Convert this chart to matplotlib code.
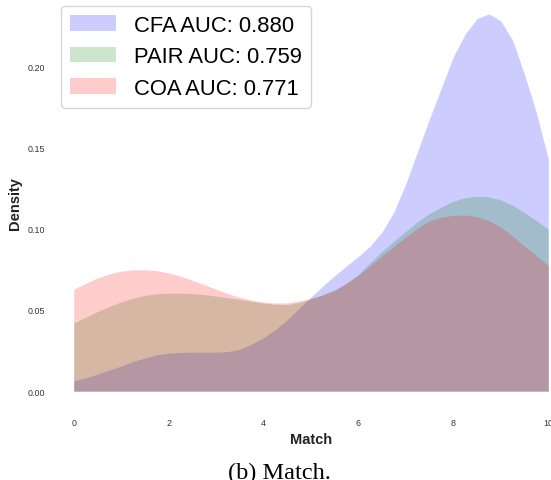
import numpy as np
import matplotlib
matplotlib.use("Agg")
import matplotlib.pyplot as plt

# density curves (Match score, 0..10)
match = np.arange(0, 10.01, 0.25)

cfa = [0.0064, 0.0082, 0.0105, 0.0130, 0.0155, 0.0182, 0.0205, 0.0224, 0.0234, 0.0239,
       0.0240, 0.0240, 0.0240, 0.0244, 0.0258, 0.0290, 0.0330, 0.0380, 0.0440, 0.0510,
       0.0580, 0.0648, 0.0712, 0.0772, 0.0830, 0.0895, 0.0982, 0.1105, 0.1280, 0.1480,
       0.1680, 0.1870, 0.2060, 0.2200, 0.2295, 0.2324, 0.2280, 0.2160, 0.1950, 0.1715,
       0.1430]
pair = [0.0420, 0.0455, 0.0490, 0.0522, 0.0550, 0.0572, 0.0590, 0.0600, 0.0604, 0.0604,
        0.0601, 0.0595, 0.0585, 0.0575, 0.0565, 0.0553, 0.0542, 0.0535, 0.0533, 0.0546,
        0.0568, 0.0595, 0.0625, 0.0665, 0.0720, 0.0793, 0.0862, 0.0925, 0.0985, 0.1045,
        0.1095, 0.1135, 0.1170, 0.1192, 0.1200, 0.1196, 0.1178, 0.1145, 0.1100, 0.1050,
        0.0999]
coa = [0.0628, 0.0664, 0.0697, 0.0722, 0.0739, 0.0747, 0.0748, 0.0742, 0.0728, 0.0708,
       0.0683, 0.0656, 0.0628, 0.0600, 0.0578, 0.0560, 0.0549, 0.0543, 0.0544, 0.0556,
       0.0572, 0.0592, 0.0620, 0.0665, 0.0715, 0.0775, 0.0835, 0.0893, 0.0950, 0.1005,
       0.1050, 0.1072, 0.1083, 0.1085, 0.1075, 0.1050, 0.1010, 0.0955, 0.0893, 0.0834,
       0.0773]

labels = ["CFA AUC: 0.880", "PAIR AUC: 0.759", "COA AUC: 0.771"]
colors = ["blue", "green", "red"]

plt.rcParams['font.family'] = ['Liberation Sans', 'DejaVu Sans']

fig = plt.figure(figsize=(5.51, 4.81), dpi=100)
ax = fig.add_axes([50 / 551, 70 / 481, 522 / 551, 415 / 481])

for ys, lab, c in zip([cfa, pair, coa], labels, colors):
    ax.fill_between(match, 0, ys, color=c, alpha=0.2, linewidth=0, label=lab)

ax.set_xlim(-0.5, 10.5)
ax.set_ylim(-0.0116, 0.244)
ax.set_xticks([0, 2, 4, 6, 8, 10])
ax.set_yticks([0.0, 0.05, 0.10, 0.15, 0.20])
ax.yaxis.set_major_formatter(matplotlib.ticker.FormatStrFormatter('%.2f'))
ax.tick_params(length=0, labelsize=6.4, labelcolor='#333333')
ax.tick_params(axis='x', pad=5.7)
for s in ax.spines.values():
    s.set_visible(False)

ax.set_xlabel("Match", fontsize=10.5, fontweight='bold', color='#222222', labelpad=3.5)
ax.set_ylabel("Density", fontsize=10.5, fontweight='bold', color='#222222')

leg = ax.legend(loc='upper left', fontsize=15.8, edgecolor='0.8', labelspacing=0.48,
                handlelength=2.1, handletextpad=0.85)

fig.text(279.5 / 551, 1 - 473 / 481, "(b) Match.", family='Liberation Serif',
         fontsize=17.5, ha='center', va='center')

fig.savefig("out.png", dpi=100)
